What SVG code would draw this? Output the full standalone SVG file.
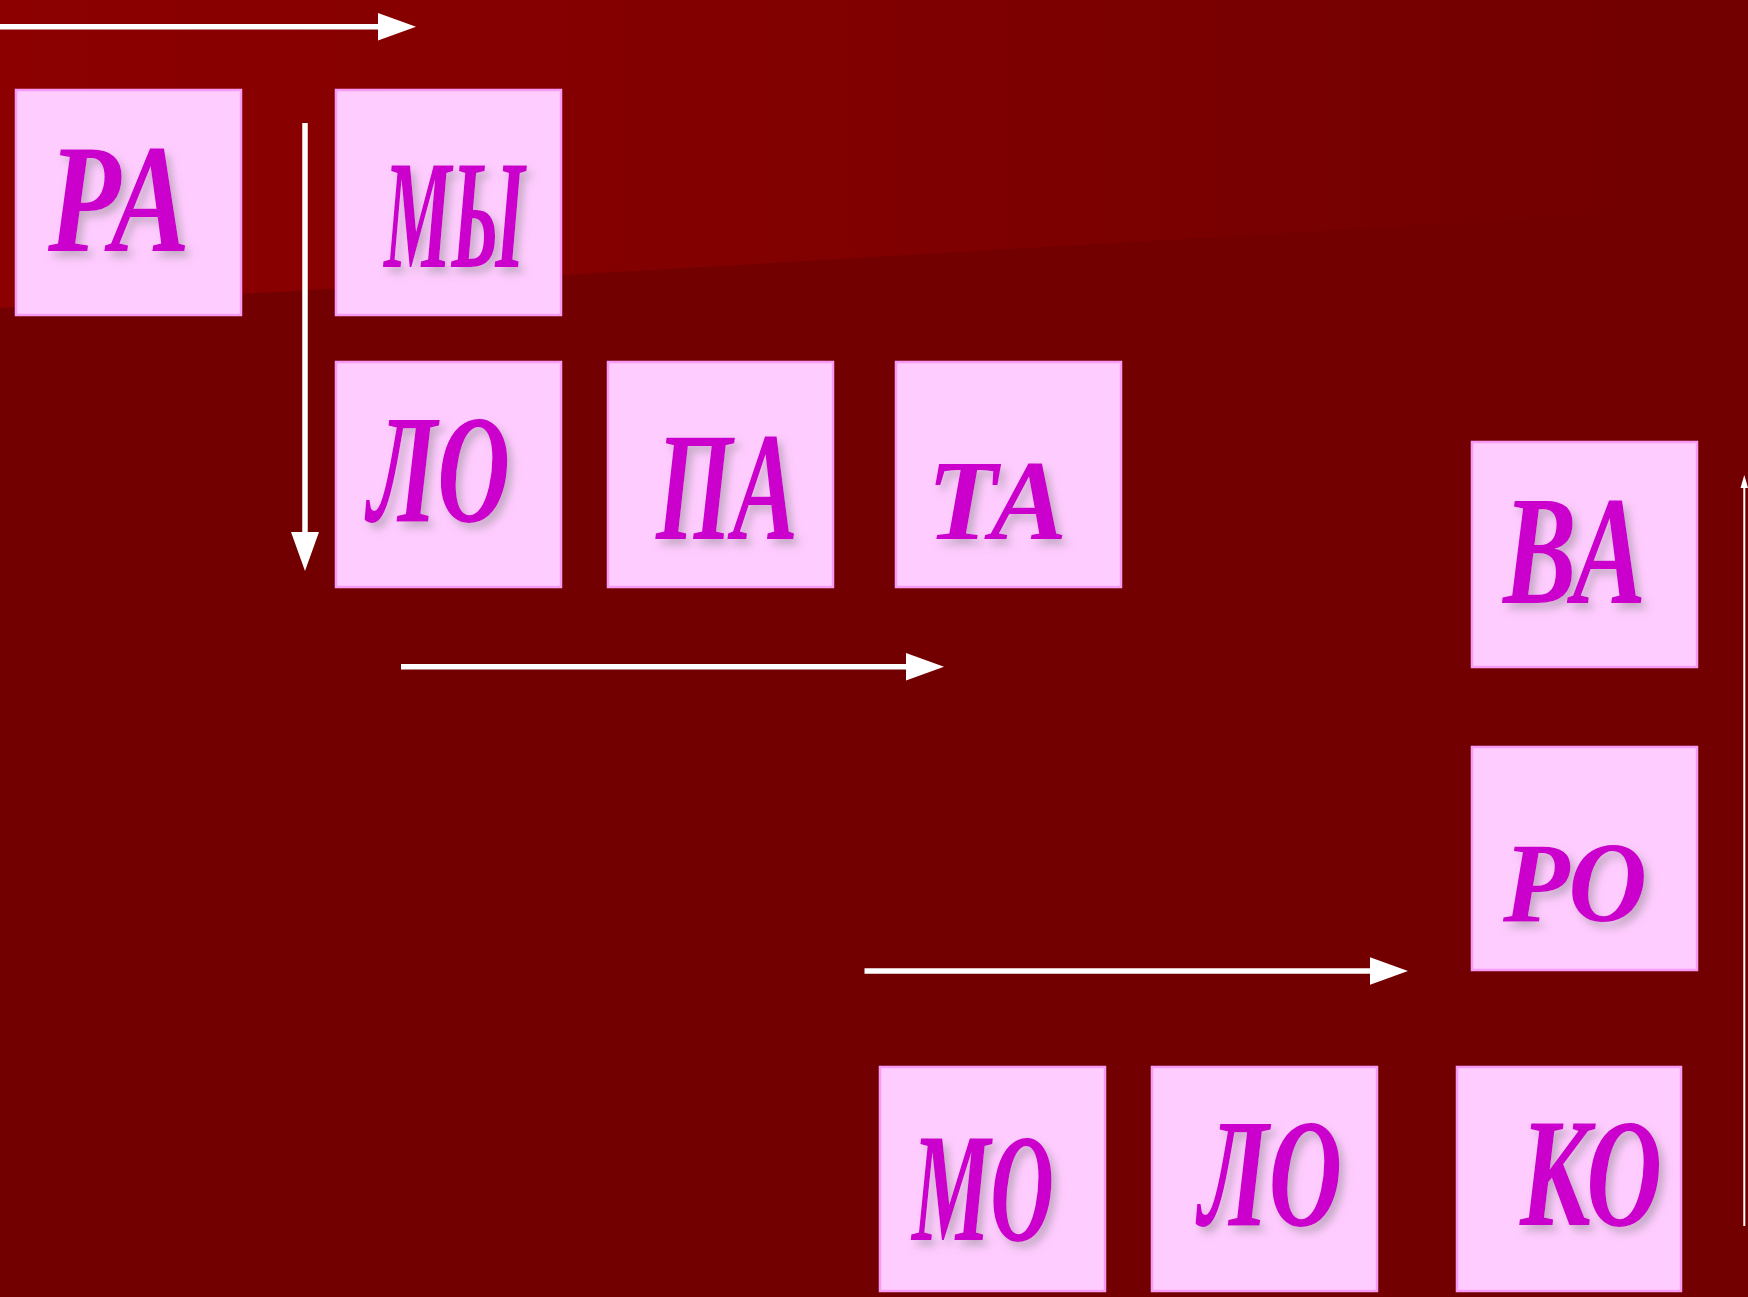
<svg xmlns="http://www.w3.org/2000/svg" width="1748" height="1297" viewBox="0 0 1748 1297">
<defs>
<linearGradient id="bgTop" x1="0" y1="0" x2="1748" y2="0" gradientUnits="userSpaceOnUse">
<stop offset="0" stop-color="#8C0000"/>
<stop offset="0.5" stop-color="#800000"/>
<stop offset="0.8" stop-color="#760000"/>
<stop offset="1" stop-color="#720000"/>
</linearGradient>
<filter id="sh" x="-20%" y="-20%" width="140%" height="140%">
<feDropShadow dx="5" dy="6" stdDeviation="4" flood-color="#808080" flood-opacity="0.45"/>
</filter>
</defs>
<style>
.box{fill:#FFCCFF;stroke:#F59AF5;stroke-width:2.5}
.lbl{font-family:"Liberation Serif","Times New Roman",serif;font-style:italic;font-weight:bold;fill:#CC00CC;filter:url(#sh)}
.big{font-size:154px}
.small{font-size:114px}
.ln{stroke:#FFFFFF;stroke-width:5.5;fill:none}
.thin{stroke:#FFFFFF;stroke-width:2;fill:none}
.hd{fill:#FFFFFF}
</style>
<rect x="0" y="0" width="1748" height="1297" fill="#720000"/>
<path d="M0,0 H1748 V206 L0,308 Z" fill="url(#bgTop)"/>

<g id="connectors">
<line class="ln" x1="0" y1="26.7" x2="380" y2="26.7"/>
<polygon class="hd" points="378,13 416,26.7 378,40.5"/>
<line class="ln" x1="305" y1="123" x2="305" y2="534"/>
<polygon class="hd" points="291,532 305,571 319,532"/>
<line class="ln" x1="401" y1="666.7" x2="908" y2="666.7"/>
<polygon class="hd" points="906,653 944,666.7 906,680.4"/>
<line class="ln" x1="864.5" y1="971" x2="1372" y2="971"/>
<polygon class="hd" points="1370,957.3 1408,971 1370,984.7"/>
<line class="thin" x1="1744.3" y1="1226" x2="1744.3" y2="486"/>
<polygon class="hd" points="1740.5,488 1744.3,475 1748,488"/>
</g>

<g id="node-ra">
<rect class="box" x="16" y="90" width="225" height="225"/>
<text class="lbl big" x="48" y="251" textLength="142" lengthAdjust="spacingAndGlyphs">РА</text>
</g>
<g id="node-my">
<rect class="box" x="336" y="90" width="225" height="225"/>
<text class="lbl big" x="384" y="267" textLength="141" lengthAdjust="spacingAndGlyphs">МЫ</text>
</g>
<g id="node-lo1">
<rect class="box" x="336" y="362" width="225" height="225"/>
<text class="lbl big" x="368" y="521" textLength="142" lengthAdjust="spacingAndGlyphs">ЛО</text>
</g>
<g id="node-pa">
<rect class="box" x="608" y="362" width="225" height="225"/>
<text class="lbl big" x="656" y="539" textLength="142" lengthAdjust="spacingAndGlyphs">ПА</text>
</g>
<g id="node-ta">
<rect class="box" x="896" y="362" width="225" height="225"/>
<text class="lbl small" x="927" y="539" textLength="140" lengthAdjust="spacingAndGlyphs">ТА</text>
</g>
<g id="node-va">
<rect class="box" x="1472" y="442" width="225" height="225"/>
<text class="lbl big" x="1503" y="603" textLength="143" lengthAdjust="spacingAndGlyphs">ВА</text>
</g>
<g id="node-ro">
<rect class="box" x="1472" y="747" width="225" height="223"/>
<text class="lbl small" x="1503" y="921" textLength="144" lengthAdjust="spacingAndGlyphs">РО</text>
</g>
<g id="node-mo">
<rect class="box" x="880" y="1067" width="225" height="224"/>
<text class="lbl big" x="912" y="1240" textLength="142" lengthAdjust="spacingAndGlyphs">МО</text>
</g>
<g id="node-lo2">
<rect class="box" x="1152" y="1067" width="225" height="224"/>
<text class="lbl big" x="1199" y="1225" textLength="143" lengthAdjust="spacingAndGlyphs">ЛО</text>
</g>
<g id="node-ko">
<rect class="box" x="1457" y="1067" width="224" height="224"/>
<text class="lbl big" x="1520" y="1225" textLength="142" lengthAdjust="spacingAndGlyphs">КО</text>
</g>
</svg>
